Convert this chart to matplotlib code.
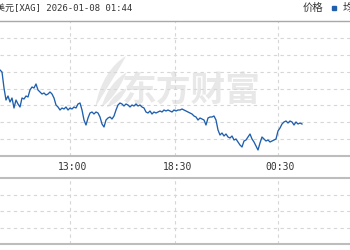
import numpy as np
import matplotlib
matplotlib.use('Agg')
import matplotlib.pyplot as plt
from matplotlib.path import Path
from matplotlib.patches import PathPatch

plt.rcParams['font.family'] = ['Noto Sans CJK SC', 'DejaVu Sans']
mono = ['DejaVu Sans Mono', 'Noto Sans CJK SC']

# price samples (one every 2 px of the time axis)
price = [78.51, 78.49, 78.33, 78.21, 78.25, 78.19, 78.23, 78.13, 78.21, 78.17,
         78.14, 78.23, 78.22, 78.25, 78.24, 78.31, 78.34, 78.33, 78.37, 78.31,
         78.29, 78.27, 78.28, 78.26, 78.27, 78.29, 78.27, 78.23, 78.16, 78.14,
         78.11, 78.13, 78.12, 78.14, 78.11, 78.13, 78.12, 78.14, 78.13, 78.17,
         78.18, 78.11, 78.01, 77.96, 78.03, 78.08, 78.09, 78.07, 78.09, 78.08,
         78.04, 77.97, 77.94, 78.01, 78.03, 78.04, 78.02, 78.05, 78.11, 78.16,
         78.18, 78.17, 78.15, 78.17, 78.16, 78.14, 78.16, 78.15, 78.17, 78.15,
         78.16, 78.14, 78.13, 78.09, 78.08, 78.10, 78.07, 78.09, 78.08, 78.09,
         78.10, 78.09, 78.11, 78.10, 78.11, 78.10, 78.09, 78.11, 78.10, 78.11,
         78.11, 78.12, 78.11, 78.10, 78.09, 78.08, 78.07, 78.05, 78.04, 78.01,
         78.03, 78.02, 78.01, 77.96, 78.03, 78.04, 78.04, 78.05, 78.01, 77.91,
         77.86, 77.88, 77.85, 77.87, 77.84, 77.83, 77.85, 77.81, 77.82, 77.79,
         77.76, 77.74, 77.80, 77.81, 77.84, 77.87, 77.82, 77.79, 77.75, 77.71,
         77.78, 77.84, 77.82, 77.80, 77.81, 77.79, 77.80, 77.81, 77.82, 77.90,
         77.93, 77.97, 77.99, 78.00, 77.98, 78.00, 77.99, 77.96, 77.99, 77.97,
         77.98, 77.97]
tick_pos = [35, 87.5, 139]
tick_labels = ['13:00', '18:30', '00:30']
title = '美元[XAG] 2026-01-08 01:44'

x = np.arange(len(price))
y_lo, y_hi = 77.65, 79.00

fig = plt.figure(figsize=(3.5, 2.5), dpi=100)
ax = fig.add_axes([0, 0.376, 1, 0.54])
ax2 = fig.add_axes([0, 0.024, 1, 0.264])

grid_kw = dict(color='#d6d6d6', linestyle=(0, (3, 3)), linewidth=0.8)
for a in (ax, ax2):
    a.set_xlim(0, 175)
    a.set_xticks(tick_pos)
    a.tick_params(length=0, labelleft=False, labelbottom=False)
    a.grid(True, **grid_kw)
    a.set_axisbelow(True)
    for s in ('left', 'right'):
        a.spines[s].set_visible(False)
    for s in ('top', 'bottom'):
        a.spines[s].set_color('#bdbdbd')
        a.spines[s].set_linewidth(1.5)
ax.spines['top'].set_linewidth(1.0)
ax.spines['top'].set_color('#a8a8a8')

ax.set_ylim(y_lo, y_hi)
ax.set_yticks(np.linspace(y_lo, y_hi, 9)[1:-1])
ax2.set_ylim(0, 4)
ax2.set_yticks([1, 2, 3])

# watermark
ax.text(0.547, 0.49, '东方财富', transform=ax.transAxes, fontsize=25,
        fontweight='bold', color='#e8e8e8', ha='center', va='center', zorder=0)
codes = [Path.MOVETO, Path.CURVE4, Path.CURVE4, Path.CURVE4,
         Path.CURVE4, Path.CURVE4, Path.CURVE4]
leaves = [
    [(0.272, 0.36), (0.285, 0.55), (0.32, 0.68), (0.36, 0.74),
     (0.335, 0.62), (0.305, 0.5), (0.272, 0.36)],
    [(0.29, 0.36), (0.305, 0.5), (0.335, 0.58), (0.362, 0.62),
     (0.345, 0.52), (0.325, 0.43), (0.29, 0.36)],
    [(0.305, 0.36), (0.32, 0.44), (0.345, 0.49), (0.362, 0.5),
     (0.35, 0.43), (0.335, 0.39), (0.305, 0.36)],
]
for v in leaves:
    ax.add_patch(PathPatch(Path(v, codes), transform=ax.transAxes,
                           facecolor='#e8e8e8', edgecolor='none', zorder=0))

ax.plot(x, price, color='#1f5fae', linewidth=0.95, zorder=3)

for p, lab in zip(tick_pos, tick_labels):
    fig.text(p / 175 + 0.006, 1 - 167 / 250, lab, fontsize=7, color='#333333',
             ha='center', va='center', family=mono)

fig.text(-0.012, 1 - 8 / 250, title, fontsize=6.5, color='#333333',
         ha='left', va='center', family=mono)
fig.text(303 / 350, 1 - 8 / 250, '价格', fontsize=7.5, color='#333333',
         ha='left', va='center')
fig.patches.append(plt.Rectangle((332 / 350, 1 - 9.5 / 250), 4 / 350, 3 / 250,
                                 transform=fig.transFigure, color='#1f5fae'))
fig.text(343 / 350, 1 - 8 / 250, '均价', fontsize=7.5, color='#333333',
         ha='left', va='center')

fig.savefig('out.png', dpi=100)
